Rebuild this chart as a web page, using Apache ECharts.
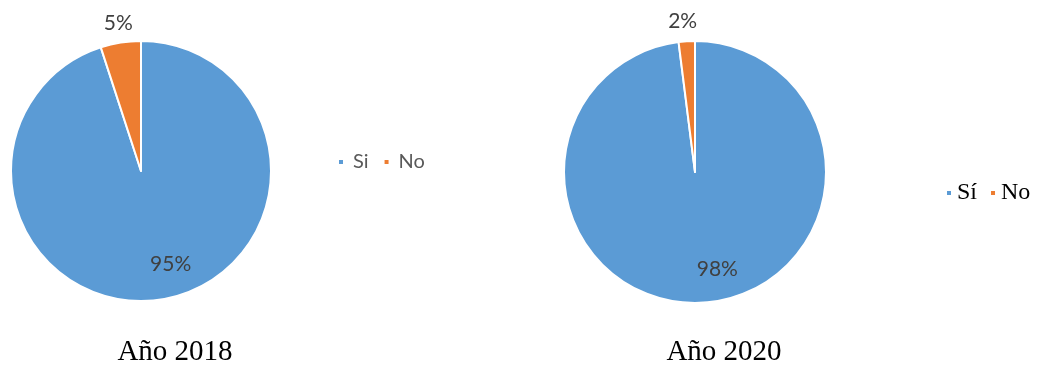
<!DOCTYPE html>
<html>
<head>
<meta charset="utf-8">
<script src="https://cdn.jsdelivr.net/npm/echarts@6/dist/echarts.min.js"></script>
<style>
html,body{margin:0;padding:0;background:#fff;}
#c{width:1037px;height:365px;}
</style>
</head>
<body>
<div id="c"></div>
<script>
// Data
var categories2018 = ['Si', 'No'];
var values2018 = [95, 5];
var categories2020 = ['Sí', 'No'];
var values2020 = [98, 2];
var titles = ['Año 2018', 'Año 2020'];

var BLUE = '#5B9BD5';
var ORANGE = '#ED7D31';
var colors = [BLUE, ORANGE];

function buildData(cats, vals, offsets) {
  return cats.map(function (name, i) {
    return {
      name: name,
      value: vals[i],
      itemStyle: { color: colors[i] },
      label: { position: 'inside', offset: offsets[i] }
    };
  });
}

var labelStyle = {
  show: true,
  formatter: '{c}%',
  fontFamily: 'Lato',
  fontSize: 21,
  color: '#404040'
};

var chart = echarts.init(document.getElementById('c'), null, { renderer: 'canvas' });
chart.setOption({
  animation: false,
  backgroundColor: '#fff',
  title: [
    { text: titles[0], left: 170, top: 333, textAlign: 'center',
      textStyle: { fontFamily: 'Liberation Serif', fontSize: 29, fontWeight: 'normal', color: '#000' } },
    { text: titles[1], left: 719, top: 333, textAlign: 'center',
      textStyle: { fontFamily: 'Liberation Serif', fontSize: 29, fontWeight: 'normal', color: '#000' } }
  ],
  legend: [
    { data: categories2018, left: 332, top: 147, icon: 'rect', itemWidth: 6, itemHeight: 6,
      itemGap: 14, textStyle: { fontFamily: 'Lato', fontSize: 20, color: '#595959', padding: [0, 0, 0, 4] } },
    { data: categories2020, left: 940, top: 176, icon: 'rect', itemWidth: 6, itemHeight: 6,
      itemGap: 12, textStyle: { fontFamily: 'Liberation Serif', fontSize: 24, color: '#000', padding: [0, 0, 0, 0] } }
  ],
  series: [
    {
      type: 'pie',
      center: [141, 171],
      radius: [0, 130],
      startAngle: 90,
      clockwise: true,
      avoidLabelOverlap: false,
      label: labelStyle,
      labelLine: { show: false },
      itemStyle: { borderColor: '#fff', borderWidth: 2 },
      emphasis: { disabled: true },
      data: buildData(categories2018, values2018, [[19, 26], [-12, -81]])
    },
    {
      type: 'pie',
      center: [695, 172],
      radius: [0, 131],
      startAngle: 90,
      clockwise: true,
      avoidLabelOverlap: false,
      label: labelStyle,
      labelLine: { show: false },
      itemStyle: { borderColor: '#fff', borderWidth: 2 },
      emphasis: { disabled: true },
      data: buildData(categories2020, values2020, [[18, 29], [-8, -82]])
    }
  ]
});
</script>
</body>
</html>
